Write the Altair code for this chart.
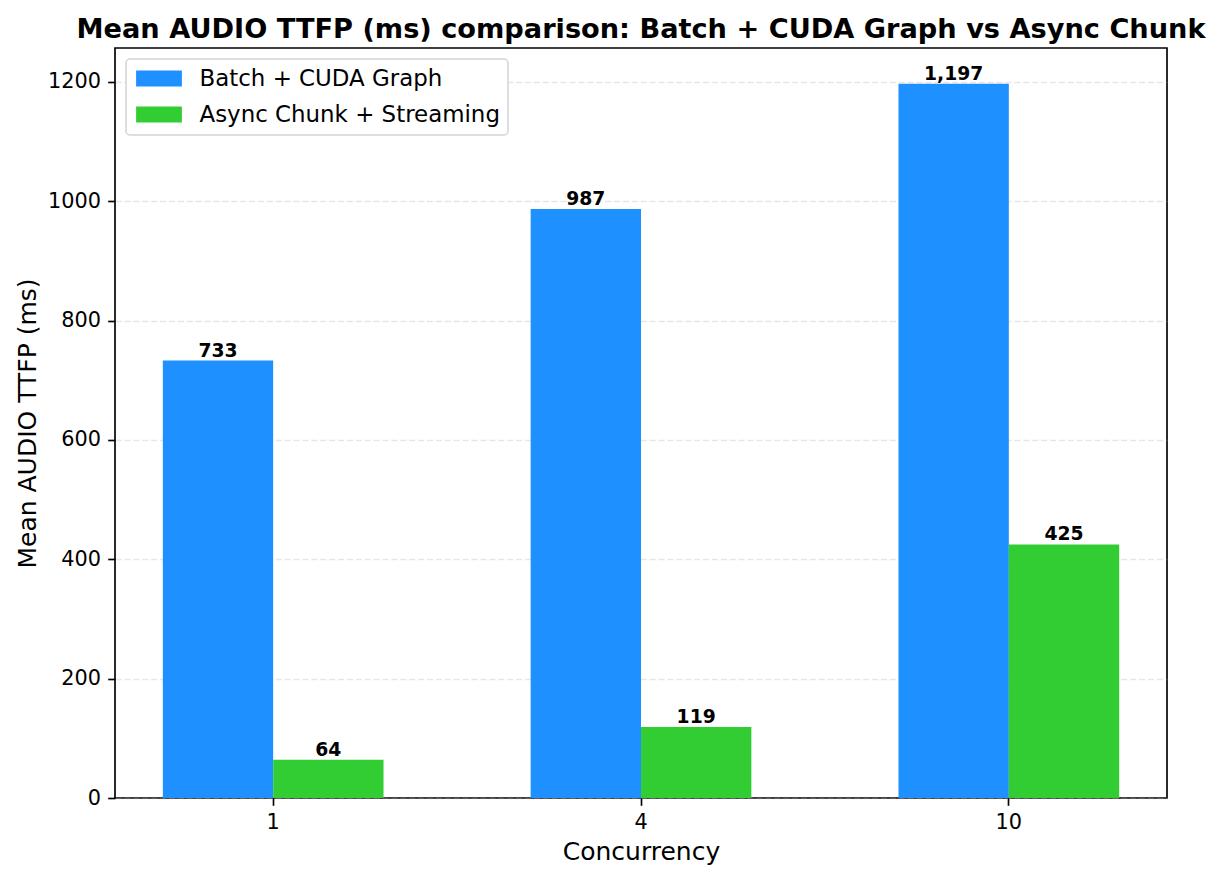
import altair as alt
import pandas as pd

# Mean audio time-to-first-packet per concurrency level
concurrency = ["1", "4", "10"]
series = ["Batch + CUDA Graph", "Async Chunk + Streaming"]
batch_cuda_graph = [733, 987, 1197]
async_chunk_streaming = [64, 119, 425]
colors = ["#1E90FF", "#32CD32"]
y_ticks = [0, 200, 400, 600, 800, 1000, 1200]

rows = []
for i, level in enumerate(concurrency):
    rows.append({"Concurrency": level, "Series": series[0], "ttfp": batch_cuda_graph[i]})
    rows.append({"Concurrency": level, "Series": series[1], "ttfp": async_chunk_streaming[i]})
df = pd.DataFrame(rows)

PT = 150 / 72  # points to pixels at 150 dpi
FONT = "DejaVu Sans"
y_max = max(batch_cuda_graph + async_chunk_streaming) * 1.05

x_enc = alt.X(
    "Concurrency:N",
    sort=concurrency,
    title="Concurrency",
    scale=alt.Scale(paddingInner=0.4, paddingOuter=0.13),
    axis=alt.Axis(labelAngle=0, grid=False),
)
x_off = alt.XOffset(
    "Series:N", sort=series, scale=alt.Scale(paddingInner=0, paddingOuter=0)
)
y_enc = alt.Y(
    "ttfp:Q",
    title="Mean AUDIO TTFP (ms)",
    scale=alt.Scale(domain=[0, y_max], nice=False, zero=True),
    axis=alt.Axis(values=y_ticks, format="d", grid=True),
)

# wide, flat legend swatch; the path extends past the unit box so the
# entry height follows the label font instead of the swatch width
swatch = "M-2,-0.7H2V0.7H-2Z"

bars = alt.Chart(df).mark_bar(strokeWidth=0).encode(
    x=x_enc,
    xOffset=x_off,
    y=y_enc,
    color=alt.Color(
        "Series:N",
        sort=series,
        scale=alt.Scale(domain=series, range=colors),
        legend=alt.Legend(
            title=None,
            orient="top-left",
            offset=11,
            padding=8,
            rowPadding=12,
            labelFont=FONT,
            labelFontSize=11 * PT,
            labelColor="black",
            labelOffset=29,
            labelLimit=0,
            symbolType=swatch,
            symbolSize=524,
            symbolOffset=13.5,
            symbolStrokeWidth=0,
            symbolOpacity=1,
            strokeColor="#d4d4d4",
            fillColor="white",
            cornerRadius=4,
        ),
    ),
)

labels = alt.Chart(df).mark_text(
    baseline="bottom",
    font=FONT,
    fontWeight="bold",
    fontSize=9 * PT,
    color="black",
).encode(
    x=x_enc,
    xOffset=x_off,
    y=alt.Y("ttfp:Q"),
    text=alt.Text("ttfp:Q", format=",d"),
)

chart = (
    alt.layer(bars, labels)
    .properties(
        width=1052,
        height=750,
        autosize=alt.AutoSizeParams(type="none"),
        padding={"left": 115, "top": 48, "right": 52, "bottom": 82},
        title=alt.TitleParams(
            text="Mean AUDIO TTFP (ms) comparison: Batch + CUDA Graph vs Async Chunk",
            font=FONT,
            fontSize=27.2,
            fontWeight="bold",
            color="black",
            anchor="middle",
            frame="group",
            baseline="alphabetic",
            offset=-17,
        ),
    )
    .configure_view(stroke="black", strokeWidth=0.8 * PT)
    .configure_legend(strokeWidth=1.5)
    .configure_axis(
        domain=False,
        labelFont=FONT,
        labelFontSize=10 * PT,
        labelColor="black",
        labelPadding=3.5 * PT,
        tickColor="black",
        tickSize=3.5 * PT,
        tickWidth=0.8 * PT,
        titleFont=FONT,
        titleFontSize=12 * PT,
        titleFontWeight="normal",
        titleColor="black",
        gridColor="#b0b0b0",
        gridOpacity=0.3,
        gridWidth=0.8 * PT,
        gridDash=[6.2, 2.7],
    )
    .configure_axisY(titlePadding=7)
    .configure_axisX(titlePadding=7)
)

chart.save("out.html", embed_options={"renderer": "svg", "actions": False})
